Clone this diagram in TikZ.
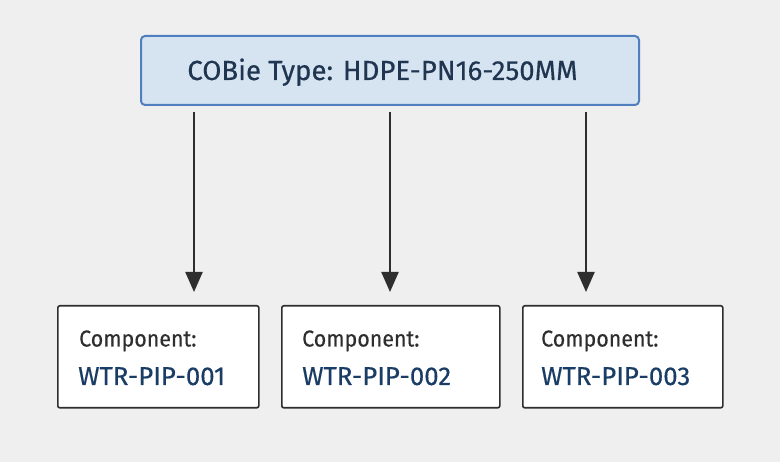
\documentclass[tikz,border=0pt]{standalone}
\usepackage{fontspec}
\setmainfont{Fira Sans}[FakeBold=0.4]
\newfontfamily\narrowfont{Fira Sans}[FakeBold=0.4,FakeStretch=0.93]
\usetikzlibrary{arrows.meta,calc}
\definecolor{bg}{HTML}{EFEFF0}
\definecolor{topfill}{HTML}{D6E4F2}
\definecolor{topdraw}{HTML}{4F7FBF}
\definecolor{navy}{HTML}{1F3550}
\definecolor{compblue}{HTML}{1A3D66}
\definecolor{ink}{HTML}{2E2E2E}
\tikzset{
  x=1pt,y=1pt,
  typebox/.style={draw=topdraw,fill=topfill,line width=2pt,rounded corners=4pt},
  compbox/.style={draw=ink,fill=white,line width=1.6pt,rounded corners=2pt},
  labeltxt/.style={anchor=base west,inner sep=0pt,text=ink,font=\narrowfont\fontsize{23}{26}\selectfont},
  idtxt/.style={anchor=base west,inner sep=0pt,text=compblue,font=\fontsize{25.8}{28}\selectfont},
  flow/.style={draw=ink,line width=2.3pt,-{Triangle[length=20pt,width=17pt]}},
}
\begin{document}
\begin{tikzpicture}
\fill[bg] (0,0) rectangle (780,-462);
\useasboundingbox (0,0) rectangle (780,-462);
\node[typebox,minimum width=498pt,minimum height=69pt,anchor=north west,inner sep=0pt] (top) at (140,-35) {};
\node[anchor=base,inner sep=0pt,text=navy,font=\fontsize{27.6}{30}\selectfont] (toptxt) at (382.5,-80) {COBie Type: HDPE-PN16-250MM};
\node[compbox,minimum width=201pt,minimum height=102pt,anchor=north west,inner sep=0pt] (b1) at (57,-305) {};
\node[compbox,minimum width=218pt,minimum height=102pt,anchor=north west,inner sep=0pt] (b2) at (281,-305) {};
\node[compbox,minimum width=200pt,minimum height=102pt,anchor=north west,inner sep=0pt] (b3) at (522,-305) {};
\node[labeltxt] (l1) at (79,-346.5) {Component:};
\node[idtxt] (i1) at (78,-385) {WTR-PIP-001};
\node[labeltxt] (l2) at (302,-346.5) {Component:};
\node[idtxt] (i2) at (302,-385) {WTR-PIP-002};
\node[labeltxt] (l3) at (541,-346.5) {Component:};
\node[idtxt] (i3) at (541,-385) {WTR-PIP-003};
\coordinate (s1) at ($(top.south)+(-196,-6)$);
\coordinate (s2) at ($(top.south)+(0,-6)$);
\coordinate (s3) at ($(top.south)+(196,-6)$);
\draw[flow] (s1) -- ($(s1 |- b1.north)+(0,13)$);
\draw[flow] (s2) -- ($(s2 |- b2.north)+(0,13)$);
\draw[flow] (s3) -- ($(s3 |- b3.north)+(0,13)$);
\end{tikzpicture}
\end{document}
